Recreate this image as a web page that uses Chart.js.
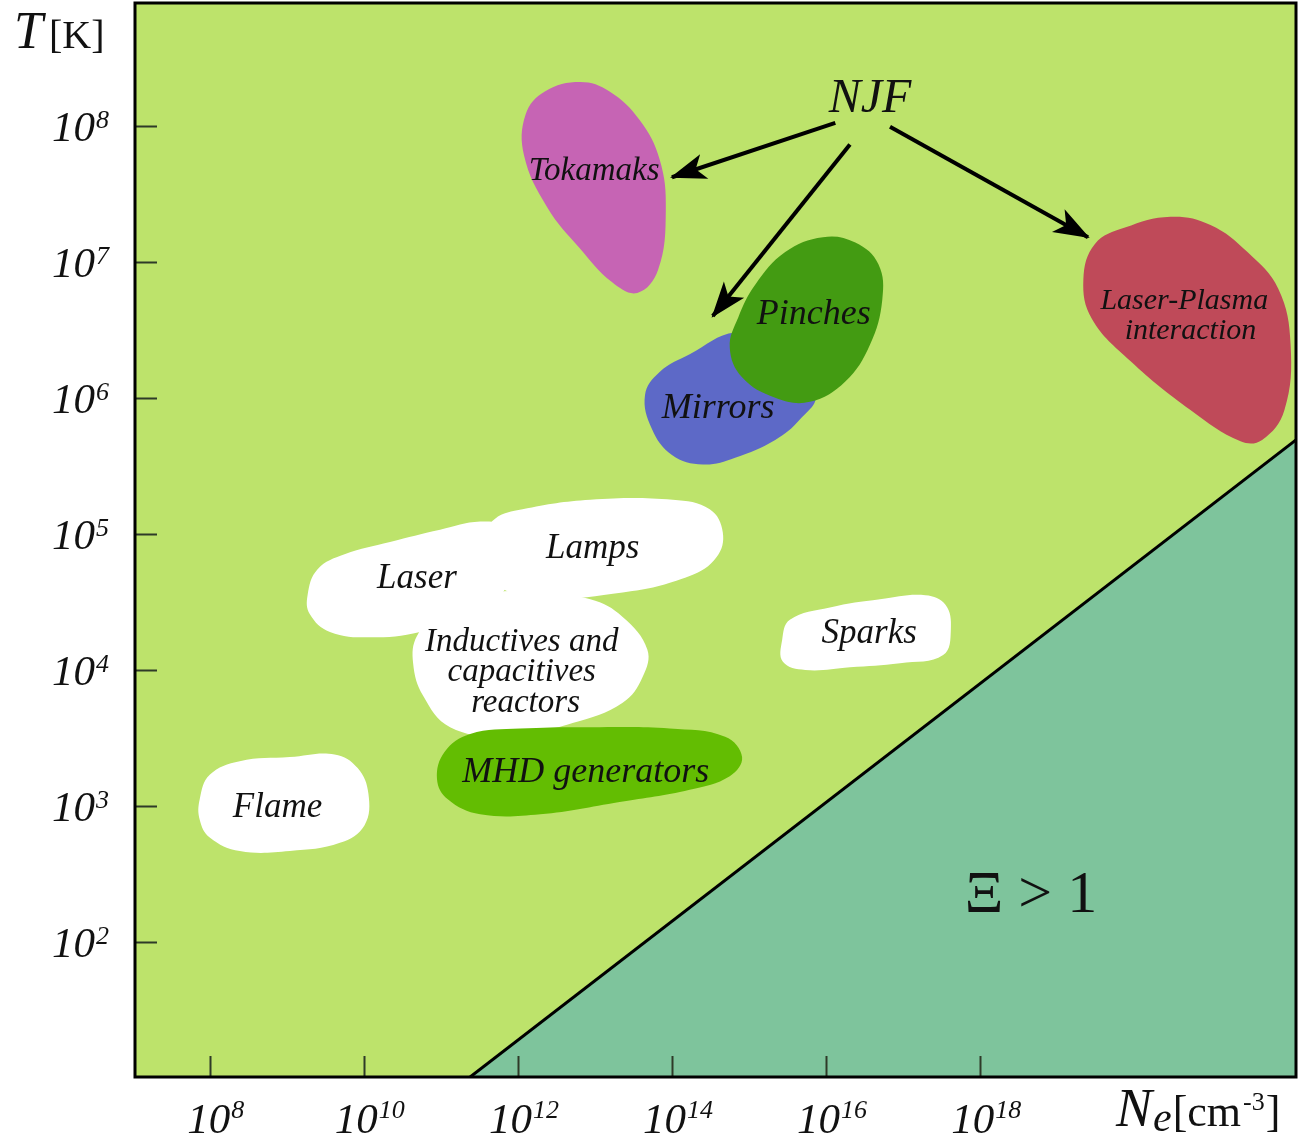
<!DOCTYPE html>
<html>
<head>
<meta charset="utf-8">
<script src="https://cdn.jsdelivr.net/npm/chart.js@4.4.0/dist/chart.umd.min.js"></script>
<style>
  html, body { margin: 0; padding: 0; background: #fff; }
  #wrap { width: 1298px; height: 1137px; }
</style>
</head>
<body>
<div id="wrap"><canvas id="plasmaMap" width="1298" height="1137"></canvas></div>
<script>
// all values are log10: x = electron density Ne [cm^-3], y = temperature T [K]
var neTicks = [8, 10, 12, 14, 16, 18];
var tTicks = [2, 3, 4, 5, 6, 7, 8];

// Xi > 1 boundary
var xiLine = [[11.38, 1.01], [22.1, 5.69]];
var xiRegion = [[11.38, 1.01], [22.1, 5.69], [22.1, 1.01]];

// plasma domains, outline points [logNe, logT]
var flame = [[7.87, 3.05], [8.00, 3.23], [8.39, 3.33], [9.04, 3.36], [9.62, 3.38], [9.92, 3.28], [10.06, 3.09], [10.01, 2.86], [9.69, 2.73], [9.04, 2.67], [8.39, 2.67], [8.00, 2.77], [7.87, 2.90]];
var laser = [[9.27, 4.55], [9.40, 4.74], [9.75, 4.85], [10.34, 4.94], [10.99, 5.03], [11.51, 5.09], [11.83, 5.05], [11.96, 4.85], [11.83, 4.59], [11.38, 4.41], [10.73, 4.28], [10.08, 4.24], [9.56, 4.28], [9.30, 4.41]];
var lamps = [[11.70, 5.11], [12.06, 5.18], [12.94, 5.25], [14.01, 5.25], [14.49, 5.18], [14.66, 5.01], [14.58, 4.83], [14.23, 4.69], [13.36, 4.57], [12.06, 4.54], [11.57, 4.74], [11.55, 4.96]];
var reactors = [[11.42, 4.54], [12.06, 4.58], [12.94, 4.52], [13.36, 4.39], [13.68, 4.15], [13.62, 3.95], [13.36, 3.76], [12.71, 3.61], [11.86, 3.51], [11.12, 3.58], [10.77, 3.81], [10.64, 4.05], [10.69, 4.25], [10.99, 4.42]];
var mhd = [[10.95, 3.20], [11.05, 3.40], [11.38, 3.53], [12.03, 3.57], [13.06, 3.58], [13.97, 3.57], [14.69, 3.51], [14.91, 3.36], [14.75, 3.22], [14.23, 3.12], [13.32, 3.03], [12.29, 2.94], [11.51, 2.94], [11.09, 3.05]];
var sparks = [[15.43, 4.22], [15.53, 4.37], [16.05, 4.46], [16.70, 4.52], [17.29, 4.55], [17.55, 4.48], [17.62, 4.30], [17.52, 4.11], [16.96, 4.05], [16.31, 4.02], [15.73, 4.00], [15.44, 4.06]];
var tokamaks = [[13.84, 7.75], [13.92, 7.38], [13.82, 6.94], [13.55, 6.77], [13.22, 6.85], [12.80, 7.10], [12.38, 7.40], [12.08, 7.78], [12.10, 8.08], [12.35, 8.25], [12.81, 8.32], [13.19, 8.25], [13.58, 8.04]];
var mirrors = [[13.65, 6.02], [13.84, 6.19], [14.23, 6.32], [14.82, 6.48], [15.40, 6.39], [15.86, 6.02], [15.66, 5.84], [15.34, 5.69], [14.82, 5.56], [14.40, 5.51], [14.00, 5.58], [13.74, 5.77]];
var pinches = [[14.86, 6.59], [15.08, 6.83], [15.47, 7.07], [15.96, 7.18], [16.38, 7.14], [16.68, 6.98], [16.73, 6.72], [16.57, 6.39], [16.25, 6.12], [15.79, 5.97], [15.34, 6.00], [14.91, 6.15], [14.75, 6.37]];
var laserPlasma = [[19.95, 6.27], [19.45, 6.58], [19.34, 6.87], [19.49, 7.13], [19.88, 7.25], [20.47, 7.33], [20.99, 7.27], [21.47, 7.07], [21.87, 6.80], [22.03, 6.39], [21.95, 5.91], [21.66, 5.69], [21.38, 5.68], [20.73, 5.91]];

// NJF arrows, [from, to]
var arrowTokamaks = [[16.12, 8.02], [14.00, 7.62]];
var arrowMirrors = [[16.31, 7.86], [14.53, 6.60]];
var arrowLaserPlasma = [[16.83, 7.99], [19.40, 7.18]];

// labels
var labelTexts = ['NJF', 'Tokamaks', 'Pinches', 'Mirrors', 'Laser-Plasma', 'interaction', 'Lamps', 'Laser', 'Inductives and', 'capacitives', 'reactors', 'Sparks', 'MHD generators', 'Flame'];
var labelNe = [16.57, 12.99, 15.84, 14.60, 20.65, 20.73, 12.97, 10.69, 12.05, 12.05, 12.10, 16.56, 12.88, 8.88];
var labelT = [8.10, 7.60, 6.54, 5.85, 6.65, 6.43, 4.82, 4.60, 4.14, 3.92, 3.69, 4.20, 3.18, 2.92];
var labelSizes = [48, 33, 36, 36, 30, 30, 35, 35, 33, 33, 33, 35, 36, 35];
var xiText = 'Ξ > 1';
var xiPos = [18.66, 2.22];

var SERIF = '"Liberation Serif", "Times New Roman", serif';

function pts(arr) {
    return arr.map(function (p) { return {x: p[0], y: p[1]}; });
}

function shape(arr, color, tension) {
    return {
        data: pts(arr), showLine: true, closed: true, fill: 'shape',
        backgroundColor: color, borderWidth: 0, pointRadius: 0, tension: tension
    };
}

function arrow(arr) {
    return {
        data: pts(arr), showLine: true, arrow: true, fill: false,
        borderColor: '#000', borderWidth: 4, pointRadius: 0, tension: 0
    };
}

var datasets = [
    shape(xiRegion, '#7ec49c', 0),
    {data: pts(xiLine), showLine: true, fill: false, borderColor: '#000', borderWidth: 3, pointRadius: 0},
    shape(flame, '#ffffff', 0.4),
    shape(laser, '#ffffff', 0.4),
    shape(lamps, '#ffffff', 0.4),
    shape(reactors, '#ffffff', 0.4),
    shape(mhd, '#63bd02', 0.4),
    shape(sparks, '#ffffff', 0.4),
    shape(tokamaks, '#c664b4', 0.4),
    shape(mirrors, '#5d69c7', 0.4),
    shape(pinches, '#439b12', 0.4),
    shape(laserPlasma, '#bf4a59', 0.4),
    arrow(arrowTokamaks),
    arrow(arrowMirrors),
    arrow(arrowLaserPlasma)
];
// first in list is painted first
datasets.forEach(function (d, i) { d.order = datasets.length - i; });

function powerLabel(ctx, exp, x, baseY, align, raise) {
    ctx.font = 'italic 43px ' + SERIF;
    var w1 = ctx.measureText('10').width;
    ctx.font = 'italic 26px ' + SERIF;
    var w2 = ctx.measureText(String(exp)).width;
    var start = align === 'right' ? x - w1 - w2 - 1 : x - (w1 + w2 + 1) / 2;
    ctx.font = 'italic 43px ' + SERIF;
    ctx.fillText('10', start, baseY);
    ctx.font = 'italic 26px ' + SERIF;
    ctx.fillText(String(exp), start + w1 + 1, baseY - raise);
}

var closeShapes = {
    id: 'closeShapes',
    afterDatasetUpdate: function (chart, args) {
        var ds = chart.data.datasets[args.index];
        if (ds.closed) {
            args.meta.dataset._loop = true;
            args.meta.dataset._fullLoop = true;
        }
    }
};

var decor = {
    id: 'decor',
    beforeDatasetsDraw: function (chart) {
        var a = chart.chartArea, ctx = chart.ctx;
        ctx.save();
        ctx.fillStyle = '#bde36b';
        ctx.fillRect(a.left, a.top, a.right - a.left, a.bottom - a.top);
        ctx.restore();
    },
    afterDatasetsDraw: function (chart) {
        var ctx = chart.ctx, a = chart.chartArea;
        var xs = chart.scales.x, ys = chart.scales.y;
        ctx.save();

        // arrow heads
        chart.data.datasets.forEach(function (ds, i) {
            if (!ds.arrow) return;
            var el = chart.getDatasetMeta(i).data;
            var p0 = el[0], p1 = el[el.length - 1];
            var ang = Math.atan2(p1.y - p0.y, p1.x - p0.x);
            ctx.save();
            ctx.translate(p1.x, p1.y);
            ctx.rotate(ang);
            ctx.beginPath();
            ctx.moveTo(2, 0);
            ctx.lineTo(-34, -13);
            ctx.lineTo(-25, 0);
            ctx.lineTo(-34, 13);
            ctx.closePath();
            ctx.fillStyle = '#000';
            ctx.fill();
            ctx.restore();
        });

        // inward ticks
        ctx.strokeStyle = '#2e3a28';
        ctx.lineWidth = 2;
        ctx.beginPath();
        tTicks.forEach(function (t) {
            var py = Math.round(ys.getPixelForValue(t)) + 0.5;
            ctx.moveTo(a.left, py);
            ctx.lineTo(a.left + 22, py);
        });
        neTicks.forEach(function (n) {
            var px = Math.round(xs.getPixelForValue(n)) + 0.5;
            ctx.moveTo(px, a.bottom);
            ctx.lineTo(px, a.bottom - 21);
        });
        ctx.stroke();

        // frame
        ctx.strokeStyle = '#000';
        ctx.lineWidth = 3;
        ctx.strokeRect(a.left, a.top, a.right - a.left, a.bottom - a.top);

        // tick labels
        ctx.fillStyle = '#111';
        ctx.textAlign = 'left';
        ctx.textBaseline = 'alphabetic';
        tTicks.forEach(function (t) {
            powerLabel(ctx, t, 109, ys.getPixelForValue(t) + 15, 'right', 13);
        });
        neTicks.forEach(function (n) {
            powerLabel(ctx, n, xs.getPixelForValue(n) + 6, 1133, 'center', 15);
        });

        // axis titles
        ctx.font = 'italic 52px ' + SERIF;
        ctx.fillText('T', 14, 48);
        ctx.font = '40px ' + SERIF;
        ctx.fillText('[K]', 49, 48);

        var x0 = 1116;
        ctx.font = 'italic 54px ' + SERIF;
        ctx.fillText('N', x0, 1126);
        x0 += ctx.measureText('N').width + 1;
        ctx.font = 'italic 42px ' + SERIF;
        ctx.fillText('e', x0, 1131);
        x0 += ctx.measureText('e').width + 1;
        ctx.font = '44px ' + SERIF;
        ctx.fillText('[cm', x0, 1126);
        x0 += ctx.measureText('[cm').width + 2;
        ctx.font = '26px ' + SERIF;
        ctx.fillText('-3', x0, 1110);
        x0 += ctx.measureText('-3').width + 1;
        ctx.font = '44px ' + SERIF;
        ctx.fillText(']', x0, 1126);

        // region labels
        ctx.textAlign = 'center';
        labelTexts.forEach(function (txt, i) {
            ctx.font = 'italic ' + labelSizes[i] + 'px ' + SERIF;
            ctx.fillText(txt, xs.getPixelForValue(labelNe[i]), ys.getPixelForValue(labelT[i]));
        });
        ctx.font = '60px ' + SERIF;
        ctx.fillText(xiText, xs.getPixelForValue(xiPos[0]), ys.getPixelForValue(xiPos[1]));

        ctx.restore();
    }
};

var ctx = document.getElementById('plasmaMap').getContext('2d');
var chart = new Chart(ctx, {
    type: 'scatter',
    data: {datasets: datasets},
    options: {
        responsive: false,
        animation: false,
        events: [],
        layout: {padding: {top: 3, right: 2, left: 0, bottom: 0}},
        plugins: {legend: {display: false}, tooltip: {enabled: false}},
        scales: {
            x: {
                type: 'linear', min: 7.03, max: 22.1,
                ticks: {display: false}, grid: {display: false}, border: {display: false},
                afterFit: function (s) { s.height = 60; }
            },
            y: {
                type: 'linear', min: 1.01, max: 8.9,
                ticks: {display: false}, grid: {display: false}, border: {display: false},
                afterFit: function (s) { s.width = 135; }
            }
        }
    },
    plugins: [closeShapes, decor]
});
</script>
</body>
</html>
